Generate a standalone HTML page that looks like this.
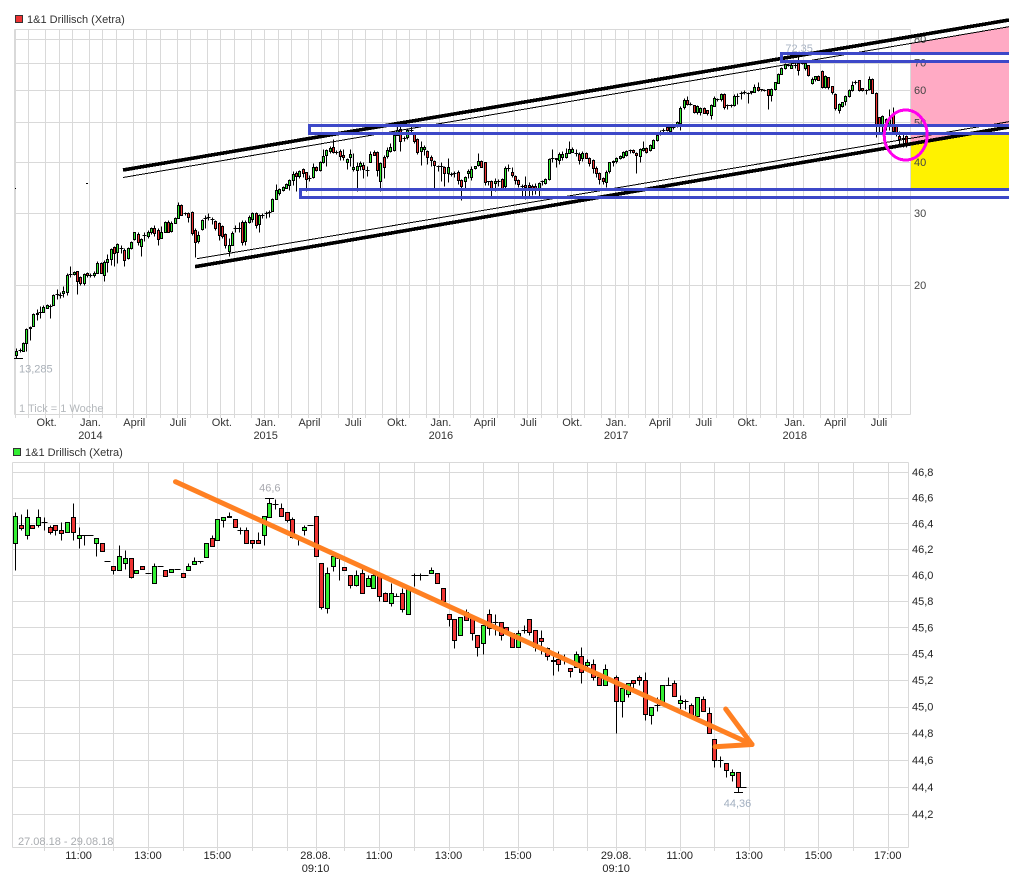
<!DOCTYPE html>
<html lang="de">
<head>
<meta charset="utf-8">
<title>1&amp;1 Drillisch (Xetra)</title>
<style>
html,body{margin:0;padding:0;background:#fff;width:1009px;height:882px;overflow:hidden}
svg{display:block;font-family:"Liberation Sans",sans-serif;font-size:11px}
</style>
</head>
<body>
<svg id="chart" xmlns="http://www.w3.org/2000/svg" width="1009" height="882" viewBox="0 0 1009 882">
  <rect x="0" y="0" width="1009" height="882" fill="#fff"/>
  <g id="upper-back" shape-rendering="crispEdges">
    <polygon points="911,43 1009,26.7 1009,135 960,135 911,144" fill="#ffaac4"/>
    <polygon points="911,144 960,135 1009,135 1009,189 911,189" fill="#fff200"/>
    <rect x="911" y="55" width="98" height="5" fill="#fff"/>
    <rect x="911" y="127" width="98" height="5" fill="#fff"/>
  </g>
  <g id="upper-grid" shape-rendering="crispEdges"></g>
  <g id="lower-grid" shape-rendering="crispEdges"></g>
  <g id="upper-candles" shape-rendering="crispEdges"></g>
  <g id="lower-candles" shape-rendering="crispEdges"></g>
  <g id="labels"></g>

  <g shape-rendering="crispEdges" fill="none">
    <line x1="123" y1="170" x2="1009" y2="20" stroke="#000" stroke-width="3.6"/>
    <line x1="123" y1="177.5" x2="1009" y2="26.7" stroke="#000" stroke-width="1"/>
    <line x1="195" y1="266.7" x2="1009" y2="127" stroke="#000" stroke-width="3.6"/>
    <line x1="197" y1="258.7" x2="1009" y2="121.7" stroke="#000" stroke-width="1"/>
    <path d="M1012 53.5H781.5V61.5H1012" stroke="#3d48c8" stroke-width="3"/>
    <path d="M1012 125.5H309.5V133.5H1012" stroke="#3d48c8" stroke-width="3"/>
    <path d="M1012 189.5H300.5V197.5H1012" stroke="#3d48c8" stroke-width="3"/>
    <ellipse cx="905.7" cy="135" rx="21.5" ry="25" stroke="#ff00ee" stroke-width="3"/>
    <rect x="15" y="188" width="1" height="1" fill="#000" stroke="none"/>
    <rect x="86" y="183" width="2" height="1" fill="#000" stroke="none"/>
  </g>
  <g fill="none" stroke="#ff8022" stroke-width="5" stroke-linecap="round">
    <line x1="175.5" y1="481.7" x2="752" y2="744.5"/>
    <line x1="715" y1="746.7" x2="752" y2="744.5"/>
    <line x1="725.7" y1="709" x2="752" y2="744.5"/>
  </g>
</svg>

<script>
/* ---------- Weekly chart data (EUR) ---------- */
const weeklyOpen = [
13.5,13.9,13.8,14.4,15.7,15.9,17.0,17.2,17.2,17.6,
17.8,17.9,18.9,18.9,19.1,19.3,21.3,21.3,21.6,20.9,
20.2,21.4,21.2,21.2,21.5,22.7,21.2,22.8,23.1,24.8,
24.1,24.6,24.4,23.2,24.6,25.8,26.7,24.9,26.4,26.3,
26.9,27.6,27.3,26.0,27.0,28.6,27.1,28.4,29.2,31.4,
30.0,30.0,30.2,27.3,25.6,27.3,29.2,29.2,28.9,28.7,
28.3,27.9,26.6,24.3,25.1,27.4,27.4,28.6,25.7,28.6,
29.0,30.0,28.2,29.6,29.9,30.1,30.4,32.5,33.6,34.2,
34.7,35.2,36.2,37.6,37.0,38.5,37.7,36.6,36.8,38.8,
38.2,40.0,41.6,42.4,43.6,42.4,42.5,41.6,40.0,41.1,
38.3,38.3,39.1,39.4,38.3,40.0,42.3,42.3,36.0,41.1,
41.4,42.6,42.8,46.6,48.2,45.6,46.0,47.8,46.8,45.5,
42.4,42.8,42.5,41.1,40.2,38.9,39.0,38.8,37.6,37.4,
37.6,37.9,36.2,36.0,37.6,36.8,38.6,39.4,40.3,39.9,
35.9,36.0,35.6,35.8,36.4,34.9,38.6,37.7,36.9,36.2,
35.0,35.2,35.2,35.0,35.0,34.4,35.8,35.6,36.4,40.7,
40.8,40.5,41.2,41.1,42.1,42.4,42.0,41.9,41.0,42.1,
41.0,40.5,38.7,37.6,36.6,35.8,37.9,39.9,40.2,40.9,
41.2,41.6,42.7,42.8,42.0,41.3,42.8,43.2,42.8,43.4,
45.3,46.9,47.9,48.8,47.6,48.8,48.8,50.0,54.3,56.8,
55.6,55.0,53.0,53.0,54.3,53.5,52.2,55.0,57.1,57.0,
58.7,55.0,55.0,55.0,58.0,59.0,59.4,58.8,59.1,59.4,
61.0,60.2,60.0,60.3,58.4,60.3,62.6,65.7,68.0,69.0,
68.0,69.0,69.8,70.0,68.0,69.0,62.6,63.9,65.1,66.6,
61.0,64.4,61.2,58.8,53.8,54.8,56.5,58.0,60.0,62.6,
63.4,60.6,60.0,60.5,64.0,59.0,51.4,48.9,51.0,49.0,
52.0,49.0,46.4,45.8,46.3];
const weeklyClose = [
13.8,13.9,14.4,15.6,15.8,17.0,17.1,17.2,17.7,17.9,
17.8,18.9,19.0,18.9,19.3,21.2,21.3,21.5,20.4,20.2,
21.3,21.2,21.2,21.4,22.7,21.5,22.8,23.2,24.5,24.0,
25.2,24.7,23.1,24.6,25.5,26.9,25.5,25.9,26.5,26.9,
27.5,26.8,26.0,26.9,28.6,27.0,28.4,29.2,31.4,29.7,
30.0,29.4,26.9,25.5,26.5,28.8,29.2,29.3,29.0,27.6,
26.4,26.3,25.0,25.1,26.8,27.5,27.5,25.6,28.6,29.4,
30.0,28.1,29.7,29.7,30.0,30.2,32.5,34.2,34.4,34.8,
35.4,36.2,37.4,37.0,38.0,37.7,36.2,36.6,38.9,38.2,
40.0,41.4,42.8,43.2,42.4,42.4,41.3,41.1,40.7,41.9,
38.8,39.1,39.8,38.6,38.3,41.9,41.6,38.3,39.8,38.8,
42.8,43.5,46.6,48.0,45.0,45.7,47.9,47.9,45.0,42.4,
43.4,43.4,41.1,40.5,39.4,39.0,38.9,37.6,38.9,37.4,
37.6,36.2,35.0,36.8,38.0,38.5,39.0,40.2,39.0,35.6,
35.7,34.3,36.0,35.9,34.6,38.7,38.7,37.1,36.0,35.4,
35.0,34.9,34.8,34.6,34.4,35.6,35.9,36.4,40.7,40.8,
40.5,41.9,41.9,42.1,43.1,43.1,42.0,40.5,42.1,41.0,
39.9,38.8,37.6,36.4,35.9,37.9,39.9,40.2,40.9,41.4,
42.3,42.5,42.7,42.3,41.6,43.0,43.2,42.3,44.0,45.3,
46.6,47.4,47.9,47.9,48.8,48.8,50.0,54.3,56.6,55.6,
55.6,53.0,54.8,54.3,52.9,52.6,55.2,57.5,57.1,58.7,
54.6,55.0,55.1,58.0,58.0,59.0,59.3,58.9,59.5,61.0,
60.0,59.9,60.0,58.4,60.5,62.6,65.7,68.0,69.5,69.0,
69.2,69.0,67.2,70.0,69.8,65.3,64.0,64.9,63.6,61.0,
65.0,61.0,59.0,54.3,55.5,56.0,58.0,60.0,61.8,62.8,
60.0,60.0,60.0,64.0,59.2,49.0,48.9,51.8,49.0,51.3,
47.4,47.4,45.7,45.8,44.0];
const weeklyHigh = [
14.0,14.0,14.5,15.7,15.9,17.1,17.5,17.8,17.9,18.0,
18.0,19.0,19.6,19.2,19.9,21.4,22.2,21.6,21.7,21.0,
21.4,21.5,21.4,21.7,22.9,22.8,23.0,23.8,24.7,24.9,
25.4,25.0,24.6,24.8,25.6,27.0,27.0,26.0,27.0,27.2,
27.8,28.0,27.6,27.9,28.7,28.8,28.7,29.4,32.0,31.6,
30.2,30.2,30.4,27.5,27.1,29.0,29.6,30.0,29.3,28.9,
28.5,28.1,26.8,26.0,27.1,28.0,28.5,28.8,28.8,29.6,
30.2,30.1,29.9,30.0,30.3,30.6,32.6,35.4,34.6,35.0,
35.6,36.4,38.0,38.0,38.2,38.7,37.8,37.2,39.8,39.0,
40.2,43.0,43.0,43.8,45.6,42.8,43.0,43.0,41.0,43.0,
42.0,40.0,40.2,40.0,39.0,42.5,42.8,42.6,40.0,41.6,
43.5,44.5,47.0,49.0,49.5,46.2,48.5,49.0,47.2,45.8,
45.0,44.0,42.8,41.5,40.5,39.3,40.0,39.0,41.0,37.8,
38.0,38.2,36.4,37.0,38.4,39.0,39.2,42.0,40.5,40.0,
36.0,36.2,36.5,36.3,36.6,39.0,39.5,38.8,37.2,36.4,
35.4,37.0,35.8,35.4,35.6,35.8,36.2,36.6,41.0,43.0,
41.0,42.3,42.6,43.2,45.0,43.4,43.0,42.2,42.5,42.4,
41.2,40.7,39.0,37.8,36.8,38.2,40.0,40.5,41.2,41.6,
42.6,42.9,43.0,43.0,42.3,43.2,45.0,43.4,44.2,45.6,
47.0,47.9,48.5,49.0,49.0,49.5,50.5,54.8,57.5,58.0,
56.0,55.2,55.0,54.6,54.5,53.7,55.4,58.0,57.5,59.0,
59.0,55.3,55.4,58.5,59.0,59.5,60.0,59.2,59.8,62.0,
62.6,60.4,60.4,60.5,60.7,62.8,66.0,68.4,70.0,69.6,
70.0,70.0,72.35,71.0,70.5,69.2,64.5,65.0,65.3,67.0,
65.2,64.6,61.4,59.0,55.8,56.2,58.2,60.5,63.0,63.5,
63.6,60.8,60.3,65.0,64.2,59.2,51.6,52.0,51.3,54.0,
54.5,49.2,47.5,47.0,46.5];
const weeklyLow = [
13.285,13.7,13.8,13.8,14.7,15.9,16.4,16.6,17.2,17.6,
16.6,17.9,18.5,18.6,18.7,18.9,20.9,21.2,19.0,20.0,
20.0,20.9,20.9,20.9,21.5,21.4,20.5,21.5,22.4,22.3,
22.6,24.0,22.2,23.2,24.5,25.8,25.0,23.6,25.6,26.0,
26.6,26.4,25.0,26.0,26.9,26.9,27.0,28.3,29.1,29.6,
29.7,28.6,26.5,23.4,25.3,27.2,27.5,28.8,28.2,27.2,
25.8,26.1,24.6,23.5,25.0,27.0,27.0,25.0,25.0,28.4,
28.5,27.5,27.0,29.2,29.2,29.4,30.3,32.4,33.3,34.0,
34.5,34.2,35.2,34.0,36.5,36.8,34.0,36.0,36.6,38.0,
38.1,39.8,39.0,42.0,42.0,41.8,40.5,40.5,38.5,39.0,
38.0,34.0,38.2,36.5,37.0,40.0,41.5,37.0,34.0,36.5,
41.0,42.4,42.5,46.5,42.6,45.0,45.5,47.0,44.5,41.8,
39.3,41.5,39.5,39.0,34.3,38.0,36.0,35.0,35.8,37.0,
36.8,35.4,32.2,34.5,36.5,36.2,38.4,39.2,38.8,35.2,
35.2,32.6,34.0,35.0,34.2,34.3,38.0,36.8,35.4,34.8,
32.8,32.5,33.0,33.3,33.4,32.8,35.2,35.4,36.2,40.0,
38.8,39.5,40.5,41.0,42.0,42.2,41.4,39.6,40.2,40.8,
39.2,37.5,36.8,35.4,35.4,34.8,37.5,39.2,39.8,40.7,
41.0,41.4,42.0,42.0,37.6,40.0,42.6,42.0,42.5,43.2,
45.0,46.6,47.0,47.5,47.2,48.2,48.6,47.8,54.0,55.0,
55.0,52.6,52.4,52.2,52.6,52.0,51.0,54.8,56.5,56.5,
54.0,53.8,54.5,54.8,55.6,57.0,58.6,55.8,58.8,59.2,
59.8,59.6,59.6,54.0,56.5,60.0,62.4,65.5,67.6,68.5,
67.8,68.0,65.3,69.5,67.0,65.0,62.0,63.0,63.4,60.8,
60.6,60.5,58.8,53.7,52.8,54.6,55.0,57.8,59.5,62.0,
59.8,59.6,58.5,60.0,59.0,46.0,47.4,47.0,48.0,48.0,
47.0,46.4,44.0,43.4,43.5];
const weeklyPriceTicks = [80,70,60,50,40,30,20];
const weeklyMonthWeeks = [0,4,9,13,17,22,26,30,35,39,43,48,52,57,61,65,70,74,78,82,87,91,96,100,104,109,113,117,122,126,130,135,139,143,148,152,156,161,165,169,174,178,182,187,191,195,200,204,208,213,217,221,226,231,234,239,243,247,252,256,260];
const weeklyLabelNames = ["Okt.","Jan.","April","Juli","Okt.","Jan.","April","Juli","Okt.","Jan.","April","Juli","Okt.","Jan.","April","Juli","Okt.","Jan.","April","Juli"];
const weeklyLabelWeeks = [9,22,35,48,61,74,87,100,113,126,139,152,165,178,191,204,217,231,243,256];
const yearLabels = ["2014","2015","2016","2017","2018"];
const yearLabelWeeks = [22,74,126,178,231];

/* ---------- Intraday chart data (EUR) ---------- */
const intradayOpen = [
46.25,46.39,46.31,46.39,46.39,46.41,46.37,46.39,46.35,46.33,
46.45,46.29,46.31,46.31,46.25,46.25,46.11,46.07,46.04,46.09,
46.13,46.02,46.07,46.02,45.94,46.07,46.04,46.03,46.05,46.02,
46.04,46.09,46.11,46.14,46.29,46.27,46.43,46.46,46.43,46.35,
46.35,46.27,46.27,46.31,46.45,46.55,46.52,46.49,46.43,46.29,
46.35,46.39,46.46,46.09,45.75,46.07,46.13,46.06,46.0,45.92,
46.02,45.92,45.9,46.0,45.86,45.78,45.84,45.86,45.7,46.0,
46.0,46.0,46.02,46.02,45.9,45.7,45.66,45.54,45.72,45.68,
45.54,45.48,45.7,45.64,45.64,45.6,45.56,45.45,45.58,45.66,
45.58,45.52,45.44,45.34,45.36,45.36,45.29,45.3,45.38,45.32,
45.32,45.22,45.16,45.21,45.22,45.04,45.1,45.2,45.22,45.2,
44.94,45.01,45.02,45.16,45.18,45.03,45.04,45.01,44.93,45.06,
44.95,44.76,44.6,44.58,44.49,44.51,44.4];
const intradayClose = [
46.46,46.37,46.45,46.37,46.45,46.41,46.33,46.35,46.33,46.41,
46.33,46.31,46.31,46.31,46.29,46.19,46.11,46.04,46.15,46.13,
45.98,46.04,46.05,46.02,46.07,46.07,45.99,46.05,46.05,45.99,
46.07,46.11,46.11,46.25,46.23,46.43,46.45,46.45,46.37,46.35,
46.25,46.25,46.25,46.46,46.56,46.55,46.46,46.43,46.29,46.29,
46.37,46.39,46.15,45.75,46.02,46.15,46.13,46.04,45.92,46.0,
45.87,45.98,46.0,45.84,45.8,45.86,45.84,45.74,45.89,46.0,
46.0,46.0,46.04,45.94,45.8,45.66,45.5,45.68,45.66,45.56,
45.45,45.62,45.59,45.64,45.54,45.56,45.45,45.56,45.58,45.56,
45.45,45.5,45.38,45.35,45.32,45.36,45.27,45.4,45.26,45.34,
45.22,45.16,45.28,45.21,45.04,45.14,45.18,45.18,45.2,44.94,
45.0,45.01,45.16,45.16,45.08,45.05,45.04,44.93,45.07,44.97,
44.8,44.6,44.6,44.53,44.51,44.4,44.4];
const intradayHigh = [
46.49,46.47,46.51,46.39,46.51,46.45,46.39,46.39,46.41,46.41,
46.56,46.37,46.31,46.31,46.29,46.25,46.11,46.07,46.23,46.19,
46.13,46.04,46.07,46.02,46.09,46.07,46.04,46.05,46.05,46.02,
46.09,46.14,46.11,46.25,46.31,46.43,46.45,46.49,46.43,46.37,
46.37,46.27,46.33,46.46,46.6,46.59,46.56,46.49,46.45,46.29,
46.39,46.39,46.46,46.09,46.06,46.17,46.16,46.06,46.0,46.04,
46.05,46.0,46.02,46.02,45.87,45.94,45.86,45.9,45.9,46.02,
46.02,46.0,46.06,46.02,45.9,45.7,45.66,45.68,45.74,45.7,
45.54,45.62,45.74,45.7,45.64,45.6,45.56,45.58,45.62,45.66,
45.58,45.58,45.45,45.42,45.42,45.4,45.29,45.42,45.45,45.36,
45.36,45.22,45.32,45.21,45.24,45.14,45.18,45.2,45.24,45.26,
45.0,45.07,45.16,45.22,45.2,45.09,45.06,45.03,45.07,45.08,
45.0,44.76,44.63,44.58,44.53,44.51,44.4];
const intradayLow = [
46.04,46.35,46.28,46.37,46.37,46.35,46.32,46.31,46.27,46.33,
46.27,46.21,46.23,46.31,46.15,46.19,46.11,46.01,46.04,46.05,
45.98,46.02,46.05,46.02,45.94,46.07,45.99,46.03,46.05,45.99,
46.04,46.09,46.09,46.14,46.23,46.27,46.37,46.45,46.37,46.32,
46.25,46.21,46.25,46.23,46.45,46.51,46.46,46.41,46.29,46.23,
46.31,46.39,46.15,45.74,45.71,46.03,45.96,46.04,45.9,45.92,
45.86,45.92,45.9,45.8,45.8,45.76,45.84,45.72,45.7,45.92,
45.96,46.0,46.02,45.94,45.8,45.61,45.44,45.54,45.66,45.5,
45.38,45.4,45.54,45.54,45.5,45.56,45.45,45.45,45.56,45.54,
45.42,45.4,45.35,45.24,45.27,45.32,45.22,45.3,45.18,45.3,
45.2,45.16,45.16,45.21,44.8,44.92,45.07,45.12,45.16,44.9,
44.87,44.97,45.02,45.16,45.08,44.97,44.98,44.93,44.93,44.97,
44.8,44.55,44.55,44.47,44.44,44.36,44.4];
const intradayPriceTicks = [46.8,46.6,46.4,46.2,46.0,45.8,45.6,45.4,45.2,45.0,44.8,44.6,44.4,44.2];
const intradayGridBars = [5,11,17,23,29,35,41,47,52,57,63,69,75,81,87,93,99,104,109,115,121,127,133,139,145,151];
const intradayLabelNames = ["11:00","13:00","15:00","28.08.","11:00","13:00","15:00","29.08.","11:00","13:00","15:00","17:00"];
const intradaySubLabels = ["","","","09:10","","","","09:10","","","",""];
const intradayLabelBars = [11,23,35,52,63,75,87,104,115,127,139,151];

/* ---------- Axis functions ---------- */
function xWeek(i){ return 16.3 + 3.37 * i; }
function yWeek(p){ return 285 - 177.5 * Math.log(p / 20); }
function xBar(i){ return 15 + 5.78 * i; }
function yBar(p){ return 472 + 5980 * Math.log(46.8 / p); }
function px(v){ return Math.round(v) + 0.5; }

const NS = 'http://www.w3.org/2000/svg';
function mk(parent, tag, attrs){
  const el = document.createElementNS(NS, tag);
  for (const k in attrs) el.setAttribute(k, attrs[k]);
  parent.appendChild(el);
  return el;
}
const GRID = '#d9d9d9';
const upperGrid = document.getElementById('upper-grid');
const lowerGrid = document.getElementById('lower-grid');
const upperCandles = document.getElementById('upper-candles');
const lowerCandles = document.getElementById('lower-candles');
const labels = document.getElementById('labels');

function gridLine(parent, x1, y1, x2, y2){
  const el = mk(parent, 'line', {x1:x1, y1:y1, x2:x2, y2:y2, stroke:GRID, 'stroke-width':1});
  
  
}
function label(text, x, y, anchor, fill){
  const el = mk(labels, 'text', {x:x, y:y, 'text-anchor':anchor, fill:fill});
  el.textContent = text;
  
  
}

/* ---------- Weekly frame and ticks ---------- */
gridLine(upperGrid, 14.5, 29.5, 910.5, 29.5);
gridLine(upperGrid, 14.5, 414.5, 910.5, 414.5);
gridLine(upperGrid, 14.5, 29.5, 14.5, 414.5);
gridLine(upperGrid, 910.5, 29.5, 910.5, 414.5);
weeklyPriceTicks.forEach(function(p){
  const y = px(yWeek(p));
  gridLine(upperGrid, 14.5, y, 910.5, y);
  label(String(p), 914, yWeek(p) + 4, 'start', '#444');
});
weeklyMonthWeeks.forEach(function(w){
  const x = px(xWeek(w) - 1.5);
  gridLine(upperGrid, x, 29.5, x, 418);
});
weeklyLabelNames.forEach(function(n, k){
  label(n, xWeek(weeklyLabelWeeks[k]), 426, 'middle', '#333');
});
yearLabels.forEach(function(n, k){
  label(n, xWeek(yearLabelWeeks[k]), 439, 'middle', '#333');
});

/* ---------- Intraday frame and ticks ---------- */
gridLine(lowerGrid, 12.5, 462.5, 908.5, 462.5);
gridLine(lowerGrid, 12.5, 847.5, 908.5, 847.5);
gridLine(lowerGrid, 12.5, 462.5, 12.5, 847.5);
gridLine(lowerGrid, 908.5, 462.5, 908.5, 847.5);
intradayPriceTicks.forEach(function(p){
  const y = px(yBar(p));
  gridLine(lowerGrid, 12.5, y, 908.5, y);
  label(p.toFixed(1).replace('.', ','), 912, yBar(p) + 4, 'start', '#222');
});
intradayGridBars.forEach(function(b){
  const x = px(xBar(b));
  gridLine(lowerGrid, x, 462.5, x, 851);
});
intradayLabelNames.forEach(function(n, k){
  label(n, xBar(intradayLabelBars[k]), 859, 'middle', '#222');
  if (intradaySubLabels[k]) label(intradaySubLabels[k], xBar(intradayLabelBars[k]), 872, 'middle', '#222');
});

/* ---------- Candles ---------- */
function drawCandle(parent, x, yO, yC, yH, yL, half){
  const cx = Math.round(x) + 0.5;
  const wick = mk(parent, 'line', {x1:cx, y1:px(yH), x2:cx, y2:px(yL), stroke:'#000', 'stroke-width':1});
  
  
  const top = Math.min(yO, yC), bottom = Math.max(yO, yC);
  if (bottom - top < 1){
    const doji = mk(parent, 'line', {x1:cx - half - 1, y1:px(top), x2:cx + half + 1, y2:px(top), stroke:'#000', 'stroke-width':1});
    
    
  } else {
    const body = mk(parent, 'rect', {x:cx - half, y:px(top), width:half * 2, height:Math.max(1, Math.round(bottom - top)), fill:yC <= yO ? '#33ee33' : '#ee3333', stroke:'#000', 'stroke-width':1});
    
    
  }
}
weeklyOpen.forEach(function(o, i){
  drawCandle(upperCandles, xWeek(i), yWeek(o), yWeek(weeklyClose[i]), yWeek(weeklyHigh[i]), yWeek(weeklyLow[i]), 1);
});
intradayOpen.forEach(function(o, i){
  drawCandle(lowerCandles, xBar(i), yBar(o), yBar(intradayClose[i]), yBar(intradayHigh[i]), yBar(intradayLow[i]), 2);
});

/* ---------- Extreme markers and printed values ---------- */
const weeklyMinValue = Math.min.apply(null, weeklyLow);
const weeklyMaxValue = Math.max.apply(null, weeklyHigh);
const intradayMinValue = Math.min.apply(null, intradayLow);
const intradayMaxValue = Math.max.apply(null, intradayHigh);
const weeklyMinIndex = weeklyLow.indexOf(weeklyMinValue);
const weeklyMaxIndex = weeklyHigh.indexOf(weeklyMaxValue);
const intradayMinIndex = intradayLow.indexOf(intradayMinValue);
const intradayMaxIndex = intradayHigh.indexOf(intradayMaxValue);
function cap(parent, x, y, half){
  const el = mk(parent, 'line', {x1:Math.round(x) - half, y1:px(y), x2:Math.round(x) + half + 1, y2:px(y), stroke:'#000', 'stroke-width':1});
  
  
}
cap(upperCandles, xWeek(weeklyMinIndex) + 1.7, yWeek(weeklyMinValue), 4);
cap(lowerCandles, xBar(intradayMaxIndex), yBar(intradayMaxValue), 4);
cap(lowerCandles, xBar(intradayMinIndex), yBar(intradayMinValue), 4);
function fmt(v){ return String(v).replace('.', ','); }
label(fmt(weeklyMinValue), 19, yWeek(weeklyMinValue) + 15, 'start', '#a9b0b8');
label(fmt(weeklyMaxValue), xWeek(weeklyMaxIndex) + 1, yWeek(weeklyMaxValue) - 5, 'middle', '#a9b4c4');
label(fmt(intradayMaxValue), xBar(intradayMaxIndex) + 0.5, yBar(intradayMaxValue) - 6, 'middle', '#a9aab0');
label(fmt(intradayMinValue), xBar(intradayMinIndex), yBar(intradayMinValue) + 15, 'middle', '#a2afc0');
label('1 Tick = 1 Woche', 19, 412, 'start', '#b4b8bc');
label('27.08.18 - 29.08.18', 18, 845, 'start', '#a9acb0');

/* ---------- Titles and legend squares ---------- */
label('1&1 Drillisch (Xetra)', 27, 23, 'start', '#333');
label('1&1 Drillisch (Xetra)', 25, 456, 'start', '#333');
const upperSwatch = mk(labels, 'rect', {x:15.5, y:15.5, width:7, height:7, fill:'#ee3333', stroke:'#333', 'stroke-width':1, 'shape-rendering':'crispEdges'});


const lowerSwatch = mk(labels, 'rect', {x:13.5, y:448.5, width:7, height:7, fill:'#33ee33', stroke:'#333', 'stroke-width':1, 'shape-rendering':'crispEdges'});


</script>
</body>
</html>
